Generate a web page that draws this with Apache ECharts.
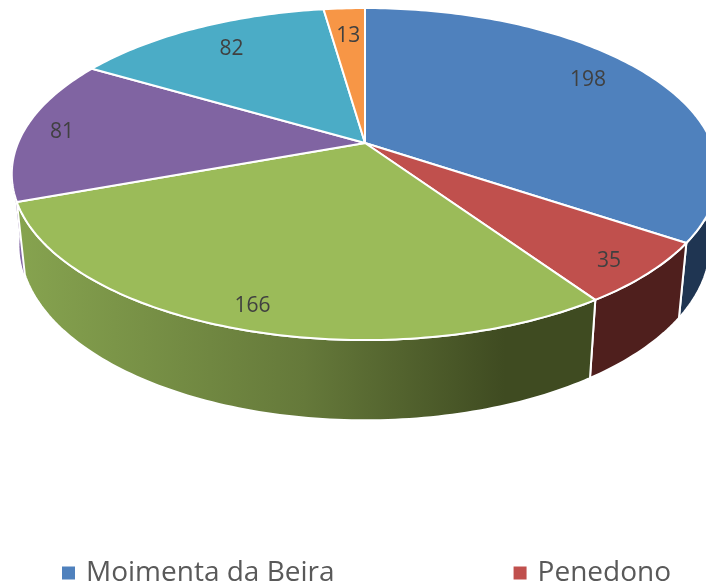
<!DOCTYPE html>
<html>
<head>
<meta charset="utf-8">
<style>
  html, body { margin: 0; padding: 0; background: #fff; }
  #chart { width: 706px; height: 586px; }
</style>
<script src="https://cdn.jsdelivr.net/npm/echarts@6/dist/echarts.min.js"></script>
</head>
<body>
<div id="chart"></div>
<script>
// only the first two names can be read, the other legend rows are cut off in the picture
const categories = ["Moimenta da Beira", "Penedono", "Categoria 3", "Categoria 4", "Categoria 5", "Categoria 6"];
const values = [198, 35, 166, 81, 82, 13];
const legendNames = ["Moimenta da Beira", "Penedono"];

const topColors = ["#4f81bd", "#c0504d", "#9bbb59", "#8064a2", "#4bacc6", "#f79646"];
const wallColors = ["#1f3552", "#4f1f1d", null, "#8064a2", "#4bacc6", "#f79646"];
const labelRadius = [0.82, 0.89, 0.89, 0.89, 0.8, 0.78];
const labelShift = [-4, 1, 0, 0, 1, 0];

const total = values.reduce((a, b) => a + b, 0);
const starts = [];
values.reduce((acc, v, i) => {
  starts[i] = acc;
  return acc + (v / total) * 360;
}, 0);

// perspective planes of the tilted pie, top face and bottom rim
const topPlane = { cx: 365, cy: 143, rx: 347, ky: 160.2, p: 0.187 };
const basePlane = { cx: 365, cy: 212.5, rx: 339, ky: 169, p: 0.187 };
const wallFrom = 80;
const wallTo = 262;

function project(plane, deg, r) {
  const a = (deg * Math.PI) / 180;
  const u = Math.sin(a) * r;
  const v = -Math.cos(a) * r;
  const s = 1 / (1 - plane.p * v);
  return [plane.cx + plane.rx * u * s, plane.cy + plane.ky * v * s];
}

function arc(plane, from, to) {
  const pts = [];
  const n = Math.max(2, Math.ceil(to - from));
  for (let i = 0; i <= n; i++) {
    pts.push(project(plane, from + ((to - from) * i) / n, 1));
  }
  return pts;
}

const greenWall = {
  type: "linear",
  global: true,
  x: 20, y: 0, x2: 590, y2: 0,
  colorStops: [
    { offset: 0, color: "#86a34f" },
    { offset: 0.5, color: "#65793a" },
    { offset: 0.85, color: "#3f4b21" },
    { offset: 1, color: "#3f4b21" },
  ],
};

function renderSlice(index) {
  return function (params, api) {
    const from = starts[index];
    const to = from + (api.value(0) / total) * 360;
    const children = [];

    const wa = Math.max(from, wallFrom);
    const wb = Math.min(to, wallTo);
    if (wa < wb) {
      const upper = arc(topPlane, wa, wb);
      const lower = arc(basePlane, wa, wb).reverse();
      children.push({
        type: "polygon",
        z2: index === 3 ? 0 : 1,
        shape: { points: upper.concat(lower) },
        style: {
          fill: index === 2 ? greenWall : wallColors[index],
          stroke: index === 3 ? "#8064a2" : "#fff",
          lineWidth: index === 3 ? 1 : 2,
        },
      });
    }

    const top = [project(topPlane, 0, 0)].concat(arc(topPlane, from, to));
    children.push({
      type: "polygon",
      z2: 2,
      shape: { points: top },
      style: { fill: topColors[index], stroke: "#fff", lineWidth: 2, lineJoin: "round" },
    });

    const mid = (from + to) / 2 + labelShift[index];
    const pos = project(topPlane, mid, labelRadius[index]);
    children.push({
      type: "text",
      z2: 3,
      x: pos[0],
      y: pos[1] + 1.5,
      style: {
        text: String(api.value(0)),
        fill: "#404040",
        font: '21px "Open Sans"',
        align: "center",
        verticalAlign: "middle",
      },
    });

    return { type: "group", children };
  };
}

const chart = echarts.init(document.getElementById("chart"), null, { renderer: "canvas" });

chart.setOption({
  animation: false,
  backgroundColor: "#fff",
  color: topColors,
  legend: {
    data: legendNames,
    left: 57,
    top: 554,
    icon: "rect",
    itemWidth: 13,
    itemHeight: 13,
    itemGap: 179,
    textStyle: { color: "#595959", fontFamily: "Open Sans", fontSize: 28, padding: [0, 0, 0, 6] },
  },
  series: categories.map((name, i) => ({
    type: "custom",
    name,
    coordinateSystem: "none",
    clip: false,
    silent: true,
    itemStyle: { color: topColors[i] },
    data: [[values[i]]],
    renderItem: renderSlice(i),
  })),
});
</script>
</body>
</html>
